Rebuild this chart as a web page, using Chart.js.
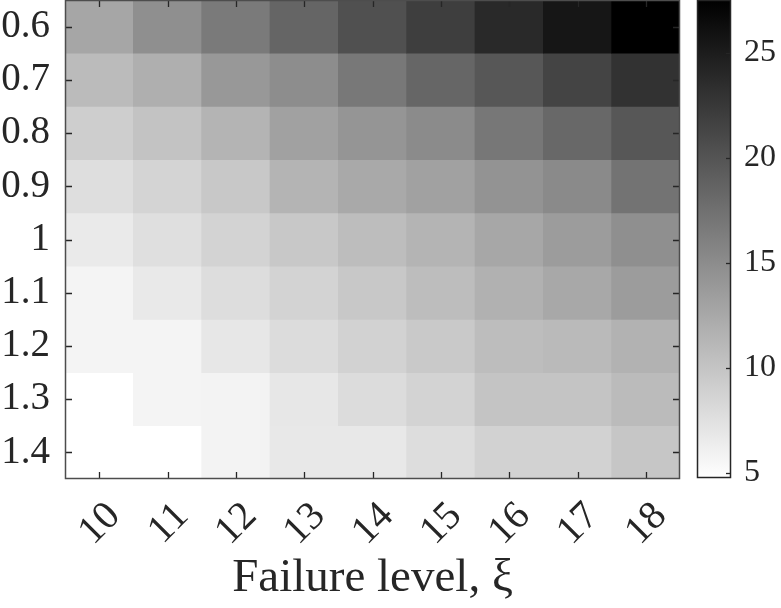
<!DOCTYPE html>
<html>
<head>
<meta charset="utf-8">
<script src="https://cdn.jsdelivr.net/npm/chart.js@4.4.1/dist/chart.umd.min.js"></script>
<style>
    html, body { margin: 0; padding: 0; background: #ffffff; }
    #main-wrap { position: absolute; left: 0; top: 0; width: 690px; height: 608px; }
    #bar-wrap { position: absolute; left: 682px; top: 0; width: 99px; height: 608px; }
</style>
</head>
<body>
<div id="main-wrap"><canvas id="heat-chart"></canvas></div>
<div id="bar-wrap"><canvas id="colorbar-chart"></canvas></div>
<script>
const failureLevels = ['10', '11', '12', '13', '14', '15', '16', '17', '18'];
const rowLabels = ['0.6', '0.7', '0.8', '0.9', '1', '1.1', '1.2', '1.3', '1.4'];

// one array per row, read left to right (failure level 10 .. 18)
const row06 = [12.7, 14.7, 16.6, 18.5, 20.4, 22.0, 23.8, 25.5, 27.5];
const row07 = [10.8, 11.9, 13.9, 14.9, 16.8, 18.4, 19.7, 21.4, 23.0];
const row08 = [9.1, 10.1, 11.4, 13.1, 14.2, 15.1, 16.9, 18.2, 19.7];
const row09 = [7.7, 8.6, 9.7, 11.4, 12.4, 13.1, 14.4, 15.2, 17.2];
const row10 = [6.6, 7.6, 8.7, 9.7, 10.6, 11.4, 12.6, 13.6, 14.7];
const row11 = [5.7, 6.7, 7.8, 8.7, 9.7, 10.6, 11.7, 12.5, 13.6];
const row12 = [5.7, 5.7, 6.9, 7.9, 8.8, 9.6, 10.6, 10.9, 11.6];
const row13 = [4.75, 5.7, 5.8, 6.9, 7.9, 8.7, 10.0, 10.0, 10.8];
const row14 = [4.75, 4.75, 5.8, 6.8, 6.8, 7.8, 8.8, 8.8, 9.8];
const cellRows = [row06, row07, row08, row09, row10, row11, row12, row13, row14];

const colorMin = 4.75;
const colorMax = 27.5;
const colorbarTicks = [5, 10, 15, 20, 25];

const inkColor = '#262626';
const fontFamily = '"Liberation Serif", "DejaVu Serif", serif';

function grayFor(value) {
    let t = (value - colorMin) / (colorMax - colorMin);
    t = Math.max(0, Math.min(1, t));
    const g = Math.round(255 * (1 - t));
    return `rgb(${g}, ${g}, ${g})`;
}

function noEdgePadding(s) {
    s.paddingTop = 0;
    s.paddingBottom = 0;
    s.paddingLeft = 0;
    s.paddingRight = 0;
}

// MATLAB style box with ticks pointing inwards
const boxTicks = {
    id: 'boxTicks',
    afterDatasetsDraw(chart, args, opts) {
        const { ctx, chartArea } = chart;
        ctx.save();
        ctx.strokeStyle = inkColor;
        ctx.lineWidth = 1.3;
        const len = opts.len;
        if (opts.xTicks) {
            const xs = chart.scales.x;
            xs.ticks.forEach((t, i) => {
                const px = Math.round(xs.getPixelForTick(i)) + 0.5;
                ctx.beginPath();
                ctx.moveTo(px, chartArea.top);
                ctx.lineTo(px, chartArea.top + len);
                ctx.moveTo(px, chartArea.bottom);
                ctx.lineTo(px, chartArea.bottom - len);
                ctx.stroke();
            });
        }
        const ys = chart.scales.y;
        ys.ticks.forEach(t => {
            const py = Math.round(ys.getPixelForValue(t.value)) + 0.5;
            ctx.beginPath();
            if (opts.leftTicks) {
                ctx.moveTo(chartArea.left, py);
                ctx.lineTo(chartArea.left + len, py);
            }
            ctx.moveTo(chartArea.right, py);
            ctx.lineTo(chartArea.right - len, py);
            ctx.stroke();
        });
        ctx.lineWidth = 1.5;
        ctx.strokeStyle = opts.boxColor;
        ctx.strokeRect(chartArea.left + 0.5, chartArea.top + 0.5,
            chartArea.right - chartArea.left - 1, chartArea.bottom - chartArea.top - 1);
        ctx.restore();
    }
};

const heatDatasets = cellRows.map((vals, r) => ({
    label: rowLabels[r],
    data: vals.map(() => [r - 0.5, r + 0.5]),
    backgroundColor: vals.map(grayFor),
    borderWidth: 0,
    grouped: false,
    categoryPercentage: 1,
    barPercentage: 1
}));

new Chart(document.getElementById('heat-chart'), {
    type: 'bar',
    data: { labels: failureLevels, datasets: heatDatasets },
    options: {
        responsive: true,
        maintainAspectRatio: false,
        animation: false,
        events: [],
        layout: { padding: { top: 0, right: 10, bottom: 0, left: 0 } },
        plugins: {
            legend: { display: false },
            tooltip: { enabled: false },
            boxTicks: { len: 7, xTicks: true, leftTicks: true, boxColor: '#4d4d4d' }
        },
        scales: {
            x: {
                grid: { display: false },
                border: { display: false },
                ticks: {
                    color: inkColor,
                    font: { family: fontFamily, size: 40 },
                    minRotation: 45,
                    maxRotation: 45,
                    padding: 6,
                    labelOffset: 15
                },
                title: {
                    display: true,
                    text: 'Failure level, ξ',
                    color: inkColor,
                    font: { family: fontFamily, size: 47 },
                    padding: { top: 0, bottom: 1 }
                },
                afterFit: s => { s.height = 129; noEdgePadding(s); }
            },
            y: {
                min: -0.5,
                max: 8.5,
                reverse: true,
                grid: { display: false },
                border: { display: false },
                afterBuildTicks: s => { s.ticks = rowLabels.map((_, i) => ({ value: i })); },
                ticks: {
                    color: inkColor,
                    font: { family: fontFamily, size: 39 },
                    padding: 7,
                    callback: v => rowLabels[v]
                },
                afterFit: s => { s.width = 65; noEdgePadding(s); }
            }
        }
    },
    plugins: [boxTicks]
});

new Chart(document.getElementById('colorbar-chart'), {
    type: 'bar',
    data: {
        labels: [''],
        datasets: [{
            data: [[colorMin, colorMax]],
            borderWidth: 0,
            categoryPercentage: 1,
            barPercentage: 1,
            backgroundColor: ctx => {
                const area = ctx.chart.chartArea;
                if (!area) return '#888888';
                const ys = ctx.chart.scales.y;
                const grad = ctx.chart.ctx.createLinearGradient(0, ys.getPixelForValue(colorMin), 0, ys.getPixelForValue(colorMax));
                grad.addColorStop(0, grayFor(colorMin));
                grad.addColorStop(1, grayFor(colorMax));
                return grad;
            }
        }]
    },
    options: {
        responsive: true,
        maintainAspectRatio: false,
        animation: false,
        events: [],
        layout: { padding: { top: 0, right: 0, bottom: 130, left: 15 } },
        plugins: {
            legend: { display: false },
            tooltip: { enabled: false },
            boxTicks: { len: 5, xTicks: false, leftTicks: false, boxColor: inkColor }
        },
        scales: {
            x: { display: false },
            y: {
                position: 'right',
                min: colorMin,
                max: colorMax,
                grid: { display: false },
                border: { display: false },
                afterBuildTicks: s => { s.ticks = colorbarTicks.map(v => ({ value: v })); },
                ticks: {
                    color: inkColor,
                    font: { family: fontFamily, size: 32 },
                    padding: 5
                },
                afterFit: s => { s.width = 50; noEdgePadding(s); }
            }
        }
    },
    plugins: [boxTicks]
});
</script>
</body>
</html>
